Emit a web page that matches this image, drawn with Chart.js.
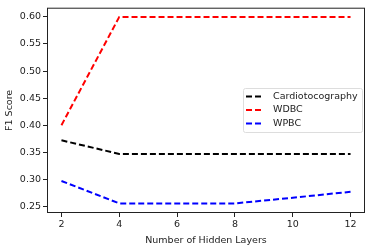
<!DOCTYPE html>
<html>
<head>
<meta charset="utf-8">
<script src="https://cdn.jsdelivr.net/npm/chart.js@4/dist/chart.umd.min.js"></script>
<style>
  html, body { margin: 0; padding: 0; background: #fff; }
  #wrap { width: 373px; height: 250px; }
</style>
</head>
<body>
<div id="wrap"><canvas id="lineChart"></canvas></div>
<script>
// Data
const hiddenLayers = [2, 4, 6, 8, 10, 12];
const cardioScores = [0.372, 0.347, 0.347, 0.347, 0.347, 0.347];
const wdbcScores = [0.400, 0.600, 0.600, 0.600, 0.600, 0.600];
const wpbcScores = [0.297, 0.2555, 0.2555, 0.2555, 0.266, 0.277];
const xTicks = [2, 4, 6, 8, 10, 12];
const yTicks = [0.25, 0.30, 0.35, 0.40, 0.45, 0.50, 0.55, 0.60];

const FONT = { family: 'DejaVu Sans', size: 9.5 };

function toPoints(values) {
    return hiddenLayers.map((x, i) => ({ x: x, y: values[i] }));
}

function makeSeries(label, values, color) {
    return {
        label: label,
        data: toPoints(values),
        borderColor: color,
        backgroundColor: color,
        borderWidth: 2,
        borderDash: [6, 3],
        pointRadius: 0,
        tension: 0,
        fill: false
    };
}

// Draws the axes frame and a matplotlib-like legend box
const framePlugin = {
    id: 'frame',
    afterDraw(chart) {
        const { ctx, chartArea: a } = chart;
        ctx.save();
        ctx.strokeStyle = '#222';
        ctx.lineWidth = 1;
        ctx.strokeRect(a.left + 0.5, a.top + 0.5, a.right - a.left - 1, a.bottom - a.top - 1);

        // legend
        const x0 = 243, y0 = 88, w = 119, h = 44;
        ctx.fillStyle = 'rgba(255,255,255,0.85)';
        ctx.strokeStyle = '#ddd';
        ctx.lineWidth = 1;
        ctx.beginPath();
        ctx.roundRect(x0 + 0.5, y0 + 0.5, w, h, 2);
        ctx.fill();
        ctx.stroke();

        ctx.font = `${FONT.size}px ${FONT.family}`;
        ctx.textBaseline = 'middle';
        chart.data.datasets.forEach((ds, i) => {
            const yy = y0 + 8.5 + i * 13.5;
            ctx.strokeStyle = ds.borderColor;
            ctx.lineWidth = 2;
            ctx.setLineDash([6, 3]);
            ctx.beginPath();
            ctx.moveTo(x0 + 3, yy);
            ctx.lineTo(x0 + 21, yy);
            ctx.stroke();
            ctx.setLineDash([]);
            ctx.fillStyle = '#222';
            ctx.fillText(ds.label, x0 + 30, yy);
        });
        ctx.restore();
    }
};

function renderChart() {
    const ctx = document.getElementById('lineChart').getContext('2d');
    new Chart(ctx, {
        type: 'line',
        data: {
            datasets: [
                makeSeries('Cardiotocography', cardioScores, '#000000'),
                makeSeries('WDBC', wdbcScores, '#ff0000'),
                makeSeries('WPBC', wpbcScores, '#0000ff')
            ]
        },
        options: {
            responsive: true,
            maintainAspectRatio: false,
            animation: false,
            layout: { padding: { top: 6, right: 8, left: 0, bottom: 0 } },
            plugins: { legend: { display: false }, tooltip: { enabled: false } },
            scales: {
                x: {
                    type: 'linear',
                    min: 1.5,
                    max: 12.5,
                    afterBuildTicks: s => { s.ticks = xTicks.map(v => ({ value: v })); },
                    afterFit: s => { s.height = 37; },
                    grid: { drawOnChartArea: false, drawTicks: true, tickLength: 4, color: '#222' },
                    border: { display: false },
                    ticks: { font: FONT, color: '#222', padding: 2, maxRotation: 0 },
                    title: { display: true, text: 'Number of Hidden Layers', font: FONT, color: '#222', padding: { top: 0, bottom: 4 } }
                },
                y: {
                    min: 0.2378,
                    max: 0.617,
                    afterBuildTicks: s => { s.ticks = yTicks.map(v => ({ value: v })); },
                    afterFit: s => { s.width = 47; },
                    grid: { drawOnChartArea: false, drawTicks: true, tickLength: 4, color: '#222' },
                    border: { display: false },
                    ticks: { font: FONT, color: '#222', padding: 2, callback: v => v.toFixed(2) },
                    title: { display: true, text: 'F1 Score', font: FONT, color: '#222', padding: { top: 4, bottom: 2 } }
                }
            }
        },
        plugins: [framePlugin]
    });
}

window.addEventListener('DOMContentLoaded', renderChart);
</script>
</body>
</html>
